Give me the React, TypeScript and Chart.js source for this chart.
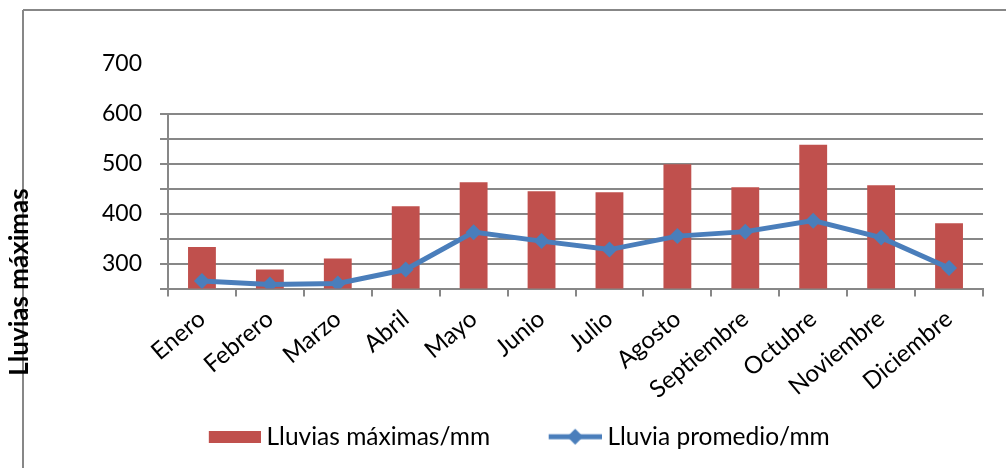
import React, { useEffect, useRef } from 'react';
import { Chart, registerables } from 'chart.js';

Chart.register(...registerables);

const months = ['Enero', 'Febrero', 'Marzo', 'Abril', 'Mayo', 'Junio', 'Julio', 'Agosto', 'Septiembre', 'Octubre', 'Noviembre', 'Diciembre'];
const lluviasMaximas = [333, 288, 310, 415, 463, 445, 443, 499, 453, 538, 457, 381];
const lluviaPromedio = [265, 258, 260, 288, 363, 345, 328, 355, 364, 386, 352, 291];
const yTickLabels = [300, 400, 500, 600, 700];
const seriesNames = ['Lluvias máximas/mm', 'Lluvia promedio/mm'];
const yTitle = 'Lluvias máximas';

const Y_MIN = 250;
const Y_MAX = 700;
const GRID_TOP = 600;

const RED = '#C0504D';
const BLUE = '#4A7EBB';
const GRID = '#878787';
const FONT = 'Lato, "Open Sans", "Liberation Sans", sans-serif';

const BOX_W = 79;
const IMG_W = 92;

function makeBarImg() {
  const c = document.createElement('canvas');
  c.width = IMG_W;
  c.height = 12;
  const g = c.getContext('2d')!;
  g.fillStyle = RED;
  g.fillRect(IMG_W - 52, 0, 52, 12);
  return c;
}

function makeLineImg() {
  const c = document.createElement('canvas');
  c.width = IMG_W;
  c.height = 18;
  const g = c.getContext('2d')!;
  const x0 = IMG_W - 53;
  g.strokeStyle = BLUE;
  g.lineWidth = 5;
  g.beginPath();
  g.moveTo(x0, 9);
  g.lineTo(IMG_W, 9);
  g.stroke();
  g.fillStyle = BLUE;
  const cx = x0 + 26.5;
  g.beginPath();
  g.moveTo(cx, 1);
  g.lineTo(cx + 8, 9);
  g.lineTo(cx, 17);
  g.lineTo(cx - 8, 9);
  g.closePath();
  g.fill();
  return c;
}

const decorPlugin = {
  id: 'decor',
  beforeDraw(chart: any) {
    const ctx = chart.ctx;
    ctx.save();
    ctx.strokeStyle = GRID;
    ctx.lineWidth = 2;
    ctx.beginPath();
    ctx.moveTo(23, 10);
    ctx.lineTo(1006, 10);
    ctx.moveTo(23, 10);
    ctx.lineTo(23, 468);
    ctx.stroke();
    ctx.restore();
  },
  beforeDatasetsDraw(chart: any) {
    const ctx = chart.ctx;
    const y = chart.scales.y;
    const x0 = chart.chartArea.left;
    ctx.save();
    ctx.strokeStyle = GRID;
    ctx.lineWidth = 2;
    ctx.beginPath();
    ctx.moveTo(x0, y.getPixelForValue(GRID_TOP));
    ctx.lineTo(x0, y.getPixelForValue(Y_MIN));
    ctx.stroke();
    ctx.restore();
  },
  afterDraw(chart: any) {
    const ctx = chart.ctx;
    ctx.save();
    // bottom strip: the reference is cut just under the legend baseline
    ctx.fillStyle = '#fff';
    ctx.fillRect(25, 449, 1006 - 25, 468 - 449);
    ctx.font = `bold 26px ${FONT}`;
    ctx.translate(28, 282);
    ctx.rotate(-Math.PI / 2);
    ctx.fillStyle = '#000';
    ctx.textAlign = 'center';
    ctx.textBaseline = 'alphabetic';
    ctx.fillText(yTitle, 0, 0);
    ctx.restore();
  },
};

export default function App() {
  const ref = useRef<HTMLCanvasElement | null>(null);

  useEffect(() => {
    if (!ref.current) return;
    const barImg = makeBarImg();
    const lineImg = makeLineImg();
    const chart = new Chart(ref.current, {
      type: 'bar',
      data: {
        labels: months,
        datasets: [
          {
            type: 'bar',
            label: seriesNames[0],
            data: lluviasMaximas,
            backgroundColor: RED,
            categoryPercentage: 1,
            barPercentage: 0.41,
            order: 2,
          },
          {
            type: 'line',
            label: seriesNames[1],
            data: lluviaPromedio,
            borderColor: BLUE,
            backgroundColor: BLUE,
            borderWidth: 5,
            pointStyle: 'rectRot',
            pointRadius: 8,
            pointBackgroundColor: BLUE,
            pointBorderColor: BLUE,
            pointBorderWidth: 0,
            tension: 0,
            order: 1,
          } as any,
        ],
      },
      options: {
        responsive: false,
        animation: false,
        devicePixelRatio: 1,
        layout: { padding: { left: 22, right: 23, top: 64, bottom: 9 } },
        plugins: {
          tooltip: { enabled: false },
          legend: {
            position: 'bottom',
            labels: {
              usePointStyle: true,
              pointStyleWidth: BOX_W,
              boxHeight: 18,
              padding: 26,
              color: '#000',
              font: { family: FONT, size: 24.5 },
              generateLabels: () => [
                { text: seriesNames[0], pointStyle: barImg as any, fillStyle: RED, strokeStyle: RED, lineWidth: 0, hidden: false, datasetIndex: 0 },
                { text: seriesNames[1], pointStyle: lineImg as any, fillStyle: BLUE, strokeStyle: BLUE, lineWidth: 0, hidden: false, datasetIndex: 1 },
              ],
            },
          },
        },
        scales: {
          x: {
            offset: true,
            grid: {
              offset: true,
              drawOnChartArea: false,
              drawTicks: true,
              tickLength: 8,
              color: GRID,
              lineWidth: 2,
            },
            border: { display: true, color: GRID, width: 2 },
            ticks: {
              color: '#000',
              font: { family: FONT, size: 24 },
              minRotation: 40,
              maxRotation: 40,
              padding: 8,
              autoSkip: false,
            },
            afterFit: (s: any) => {
              s.height = 110;
            },
          },
          y: {
            min: Y_MIN,
            max: Y_MAX,
            border: { display: false },
            grid: {
              color: (c: any) => (c.tick && c.tick.value > GRID_TOP ? 'rgba(0,0,0,0)' : GRID),
              tickColor: (c: any) => (c.tick && c.tick.value > GRID_TOP ? 'rgba(0,0,0,0)' : GRID),
              lineWidth: 2,
              tickLength: 8,
            },
            ticks: {
              stepSize: 50,
              autoSkip: false,
              color: '#000',
              font: { family: FONT, size: 23 },
              padding: 18,
              callback: (v: any) => (yTickLabels.includes(Number(v)) ? String(v) : ''),
            },
            afterFit: (s: any) => {
              s.width = 146;
            },
          },
        },
      },
      plugins: [decorPlugin],
    });
    return () => chart.destroy();
  }, []);

  return (
    <div style={{ position: 'absolute', left: 0, top: 0, width: 1006, height: 468, background: '#fff' }}>
      <canvas ref={ref} width={1006} height={468} style={{ width: 1006, height: 468, display: 'block' }} />
    </div>
  );
}
